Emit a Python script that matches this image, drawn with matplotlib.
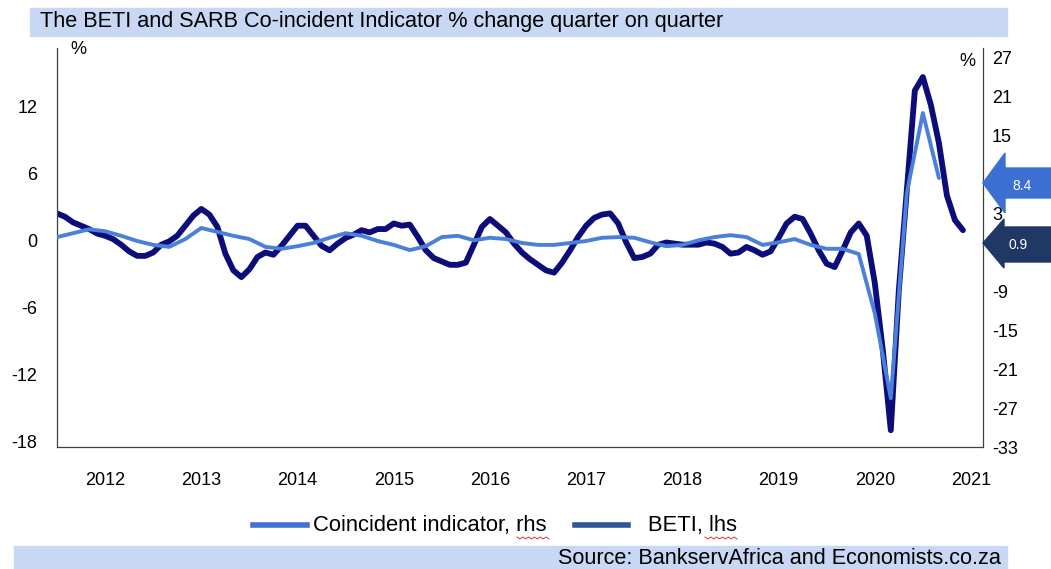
import numpy as np
import matplotlib
matplotlib.use('Agg')
import matplotlib.pyplot as plt
from matplotlib.patches import Rectangle, Polygon
from matplotlib.lines import Line2D

plt.rcParams['font.family'] = ['Liberation Sans', 'DejaVu Sans']
plt.rcParams['axes.unicode_minus'] = False

# ------------------------------------------------------| Data
# monthly BETI q/q % change, starting mid-2011 (lhs)
beti = [2.4, 2.1, 1.6, 1.3, 1.0, 0.6, 0.4, 0.1, -0.4, -1.0,
        -1.4, -1.4, -1.1, -0.4, -0.1, 0.4, 1.3, 2.2, 2.8, 2.3,
        1.2, -1.2, -2.7, -3.3, -2.6, -1.5, -1.1, -1.3, -0.5, 0.4,
        1.3, 1.3, 0.4, -0.5, -0.9, -0.3, 0.2, 0.5, 0.9, 0.7,
        1.0, 1.0, 1.5, 1.3, 1.4, 0.3, -0.9, -1.6, -1.9, -2.2,
        -2.2, -2.0, -0.4, 1.2, 1.9, 1.3, 0.7, -0.3, -1.1, -1.7,
        -2.2, -2.7, -2.9, -2.0, -0.9, 0.3, 1.3, 2.0, 2.3, 2.4,
        1.5, -0.2, -1.6, -1.5, -1.2, -0.4, -0.2, -0.3, -0.4, -0.4,
        -0.4, -0.2, -0.3, -0.6, -1.2, -1.1, -0.6, -0.9, -1.3, -1.0,
        0.2, 1.5, 2.1, 1.9, 0.6, -0.9, -2.1, -2.4, -0.9, 0.7,
        1.5, 0.4, -3.8, -9.8, -17.0, -4.5, 4.5, 13.4, 14.6, 12.1,
        8.7, 4.0, 1.8, 0.9]
# SARB coincident indicator, every second month (rhs)
coincident = [-0.7, -0.1, 0.5, 0.2, -0.5, -1.3, -1.9, -2.2, -1.0, 0.7,
              0.1, -0.5, -1.0, -2.2, -2.5, -2.1, -1.6, -0.8, -0.1, -0.5,
              -1.3, -1.9, -2.7, -2.1, -0.7, -0.5, -1.2, -0.8, -1.0, -1.6,
              -1.9, -1.9, -1.6, -1.3, -0.8, -0.7, -0.8, -1.5, -2.1, -1.9,
              -1.2, -0.7, -0.4, -0.7, -1.9, -1.5, -1.0, -1.9, -2.5, -2.5,
              -3.3, -12.4, -25.5, 6.1, 18.4, 8.4]
years = ['2012', '2013', '2014', '2015', '2016',
         '2017', '2018', '2019', '2020', '2021']
latest = ['8.4', '0.9']

m_beti = np.arange(len(beti))
m_coinc = np.arange(len(coincident)) * 2

# ------------------------------------------------------| Figure
W, H = 1051, 569
fig = plt.figure(figsize=(W / 100, H / 100), dpi=100)

def fx(x):
    return x / W

def fy(y):
    return 1 - y / H

ax = fig.add_axes([fx(57), fy(447), fx(983) - fx(57), fy(48) - fy(447)])
ax2 = ax.twinx()

ax.plot(m_beti, beti, color='#0d0d7a', lw=4.2,
        solid_capstyle='round', solid_joinstyle='round')
ax2.plot(m_coinc, coincident, color='#4a7fda', lw=2.8,
         solid_capstyle='round', solid_joinstyle='round')

ax.set_xlim(0, 115.5)
ax.set_ylim(-18.5, 17.2)
ax2.set_ylim(-33, 28.4)
ax.set_yticks(np.arange(-18, 13, 6))
ax2.set_yticks(np.arange(-33, 28, 6))
ax.set_xticks(6 + 12 * np.arange(len(years)))
ax.set_xticklabels(years)

ax.tick_params(axis='y', length=0, pad=14, labelsize=13)
ax.tick_params(axis='x', length=0, pad=18, labelsize=13)
ax2.tick_params(axis='y', length=0, pad=6.5, labelsize=13)

ax.spines['top'].set_visible(False)
ax.spines['right'].set_visible(False)
for s in ['top', 'left', 'bottom']:
    ax2.spines[s].set_visible(False)
for s in [ax.spines['left'], ax.spines['bottom'], ax2.spines['right']]:
    s.set_color('#404040')
    s.set_linewidth(0.9)

fig.text(fx(78), fy(50), '%', ha='center', va='center', fontsize=13)
fig.text(fx(967), fy(62), '%', ha='center', va='center', fontsize=13)

# title and source bands
fig.patches.append(Rectangle((fx(30), fy(36)), fx(1007) - fx(30), fy(8) - fy(36),
                             transform=fig.transFigure, color='#c8d7f4', zorder=0))
fig.text(fx(40), fy(22), 'The BETI and SARB Co-incident Indicator % change quarter on quarter',
         ha='left', va='center', fontsize=15.6)
fig.patches.append(Rectangle((fx(14), fy(569)), fx(1007) - fx(14), fy(546) - fy(569),
                             transform=fig.transFigure, color='#c8d7f4', zorder=0))
fig.text(fx(1001), fy(558), 'Source: BankservAfrica and Economists.co.za',
         ha='right', va='center', fontsize=15.6)

# legend
fig.lines.append(Line2D([fx(253), fx(307)], [fy(525), fy(525)], transform=fig.transFigure,
                        color='#3d72d4', lw=4))
fig.text(fx(313), fy(525), 'Coincident indicator, rhs', ha='left', va='center', fontsize=15.8)
fig.lines.append(Line2D([fx(575), fx(628)], [fy(525), fy(525)], transform=fig.transFigure,
                        color='#2e5597', lw=4))
fig.text(fx(648), fy(525), 'BETI, lhs', ha='left', va='center', fontsize=15.8)
# spell-check squiggles
for x0 in (517, 705):
    xs = np.linspace(x0, x0 + 32, 12)
    ys = 538 + np.where(np.arange(12) % 2 == 0, -1, 1)
    fig.lines.append(Line2D(fx(xs), fy(ys), transform=fig.transFigure, color='#e03030', lw=0.7))

# arrows with latest values
arrow1 = [(983, 183), (1005, 153), (1005, 168), (1051, 168), (1051, 198), (1005, 198), (1005, 213)]
arrow2 = [(983, 243), (1004, 219), (1004, 227), (1051, 227), (1051, 262), (1004, 262), (1004, 268)]
for pts, col in [(arrow1, '#3b70d2'), (arrow2, '#1f3864')]:
    fig.patches.append(Polygon([(fx(x), fy(y)) for x, y in pts], closed=True,
                               transform=fig.transFigure, color=col, zorder=5))
fig.text(fx(1022), fy(186), latest[0], color='white', ha='center', va='center', fontsize=10, zorder=6)
fig.text(fx(1018), fy(245), latest[1], color='white', ha='center', va='center', fontsize=10, zorder=6)

fig.savefig('out.png', dpi=100)
